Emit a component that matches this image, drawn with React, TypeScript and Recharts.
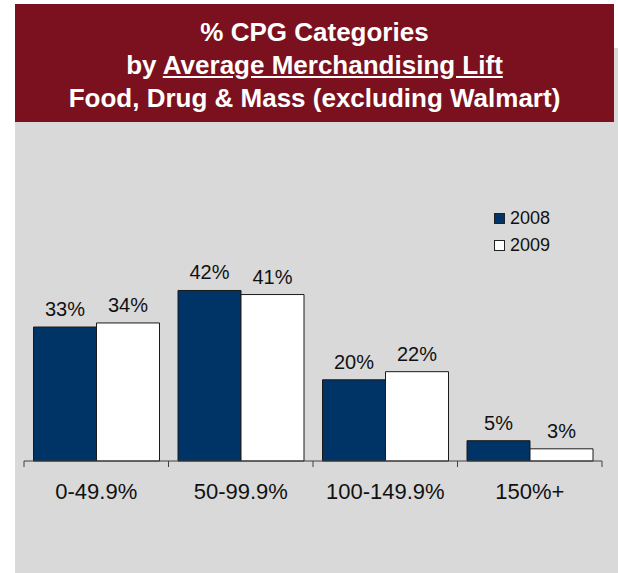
import { BarChart, Bar, XAxis, YAxis, LabelList } from 'recharts'

const categories = ['0-49.9%', '50-99.9%', '100-149.9%', '150%+']
const values2008 = [33, 42, 20, 5]
const values2009 = [34, 41, 22, 3]
const seriesNames = ['2008', '2009']

const data = categories.map((cat, i) => ({
  cat,
  y2008: values2008[i],
  y2009: values2009[i],
}))

const FONT = '"Liberation Sans", Arial, sans-serif'
const NAVY = '#003366'

const BoundaryTick = (props: any) => {
  const { x, y, payload, index, width, visibleTicksCount } = props
  const band = width / visibleTicksCount
  const axisY = y - 8
  const left = x - band / 2
  const right = x + band / 2
  return (
    <g>
      <line x1={left} y1={axisY} x2={left} y2={axisY + 6} stroke="#404040" strokeWidth={1} />
      {index === visibleTicksCount - 1 && (
        <line x1={right} y1={axisY} x2={right} y2={axisY + 6} stroke="#404040" strokeWidth={1} />
      )}
      <text x={x} y={axisY + 38} textAnchor="middle" fontSize={22} fill="#111" fontFamily={FONT}>
        {payload.value}
      </text>
    </g>
  )
}

export default function App() {
  return (
    <div style={{ position: 'absolute', left: 0, top: 0, width: 618, height: 573, background: '#fff', fontFamily: FONT }}>
      <div style={{ position: 'absolute', left: 15, top: 48, width: 603, height: 525, background: '#d9d9d9' }} />
      <div
        style={{
          position: 'absolute',
          left: 15,
          top: 4,
          width: 599,
          height: 118,
          background: '#7b111e',
          color: '#fff',
          fontWeight: 'bold',
          fontSize: 26,
          textAlign: 'center',
          lineHeight: '33px',
          paddingTop: 12,
          boxSizing: 'border-box',
        }}
      >
        <div>% CPG Categories</div>
        <div>
          by <span style={{ textDecoration: 'underline' }}>Average Merchandising Lift</span>
        </div>
        <div>Food, Drug &amp; Mass (excluding Walmart)</div>
      </div>
      <div style={{ position: 'absolute', left: 0, top: 0 }}>
        <BarChart
          width={618}
          height={573}
          data={data}
          margin={{ top: 258, right: 16, left: 24, bottom: 72 }}
          barCategoryGap={9.5}
          barGap={0}
        >
          <XAxis
            dataKey="cat"
            height={40}
            axisLine={{ stroke: '#404040' }}
            tickLine={false}
            tick={<BoundaryTick />}
            interval={0}
          />
          <YAxis hide domain={[0, 50]} />
          <Bar dataKey="y2008" name="2008" fill={NAVY} stroke="#1a1a1a" strokeWidth={1} isAnimationActive={false}>
            <LabelList
              dataKey="y2008"
              position="top"
              offset={11}
              formatter={(v: any) => `${v}%`}
              style={{ fontSize: 20, fill: '#111', fontFamily: FONT }}
            />
          </Bar>
          <Bar dataKey="y2009" name="2009" fill="#ffffff" stroke="#1a1a1a" strokeWidth={1} isAnimationActive={false}>
            <LabelList
              dataKey="y2009"
              position="top"
              offset={11}
              formatter={(v: any) => `${v}%`}
              style={{ fontSize: 20, fill: '#111', fontFamily: FONT }}
            />
          </Bar>
        </BarChart>
      </div>
      <div style={{ position: 'absolute', left: 494, top: 205, fontSize: 18, color: '#111' }}>
        {seriesNames.map((name, i) => (
          <div key={name} style={{ display: 'flex', alignItems: 'center', height: 27 }}>
            <span
              style={{
                display: 'inline-block',
                width: 9,
                height: 9,
                background: i === 0 ? NAVY : '#fff',
                border: '1px solid #222',
                marginRight: 5,
              }}
            />
            {name}
          </div>
        ))}
      </div>
    </div>
  )
}
